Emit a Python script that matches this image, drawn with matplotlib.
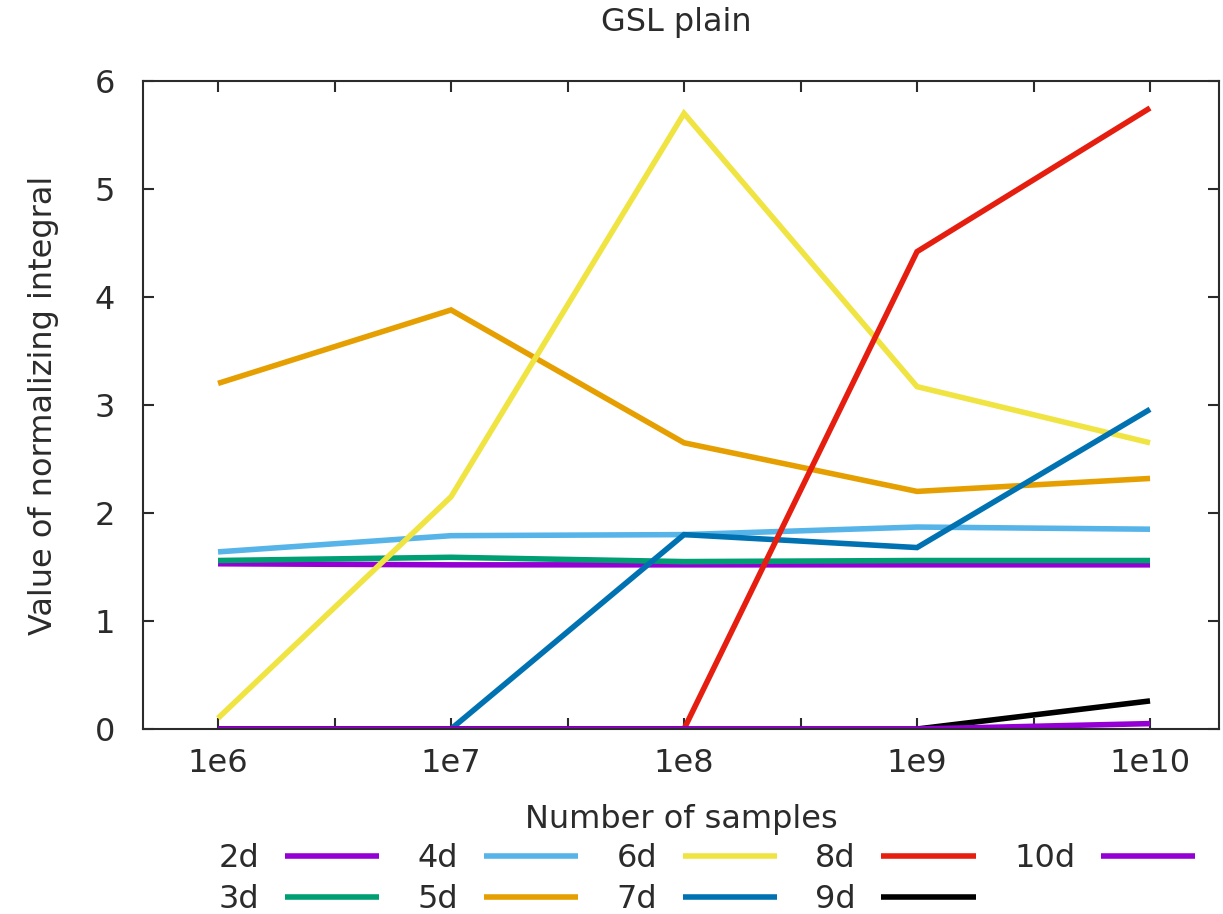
import numpy as np
import matplotlib.pyplot as plt

samples = [1e6, 1e7, 1e8, 1e9, 1e10]
labels = ['2d', '3d', '4d', '5d', '6d', '7d', '8d', '9d', '10d']
values = {
    '2d':  [1.53, 1.52, 1.52, 1.52, 1.52],
    '3d':  [1.56, 1.59, 1.55, 1.56, 1.56],
    '4d':  [1.64, 1.79, 1.80, 1.87, 1.85],
    '5d':  [3.20, 3.88, 2.65, 2.20, 2.32],
    '6d':  [0.10, 2.15, 5.70, 3.17, 2.65],
    '7d':  [0.0, 0.0, 1.80, 1.68, 2.96],
    '8d':  [0.0, 0.0, 0.0, 4.42, 5.75],
    '9d':  [0.0, 0.0, 0.0, 0.0, 0.26],
    '10d': [0.0, 0.0, 0.0, 0.0, 0.05],
}
colors = ['#9400D3', '#009E73', '#56B4E9', '#E69F00', '#F0E442',
          '#0072B2', '#E51E10', '#000000', '#9400D3']

fs = 23
txt = '#2b2b2b'

fig = plt.figure(figsize=(12.23, 9.14), dpi=100)
ax = fig.add_axes([143/1223, 1 - 729/914, (1219 - 143)/1223, (729 - 81)/914])

for lab, col in zip(labels, colors):
    ax.plot(samples, values[lab], color=col, lw=4, label=lab,
            solid_joinstyle='miter', solid_capstyle='butt')

ax.set_xscale('log')
ax.set_xlim(10**5.678, 10**10.296)
ax.set_ylim(0, 6)
exps = np.arange(6, 10.5, 0.5)
ax.set_xticks(10 ** exps)
ax.set_xticklabels(['1e%d' % int(e) if e == int(e) else '' for e in exps])
ax.xaxis.set_minor_locator(plt.NullLocator())
ax.set_yticks(range(7))
ax.tick_params(direction='in', length=8, width=1.5, top=True, right=True,
               labelsize=fs, colors=txt, labelcolor=txt)
ax.tick_params(axis='y', pad=20)
ax.tick_params(axis='x', pad=14)
for s in ax.spines.values():
    s.set_linewidth(1.5)
    s.set_color(txt)

ax.set_ylabel('Value of normalizing integral', fontsize=fs, color=txt, labelpad=26)
ax.set_xlabel('Number of samples', fontsize=fs, color=txt, labelpad=18)
fig.text(0.553, 1 - 22/914, 'GSL plain', fontsize=fs, color=txt, ha='center', va='center')

fig.legend(loc='center', bbox_to_anchor=(0.578, 1 - 879/914), ncol=5, frameon=False,
           markerfirst=False, fontsize=fs, handlelength=2.95, handletextpad=0.8,
           columnspacing=1.2, labelspacing=0.3, labelcolor=txt)

fig.savefig('out.png', dpi=100)
